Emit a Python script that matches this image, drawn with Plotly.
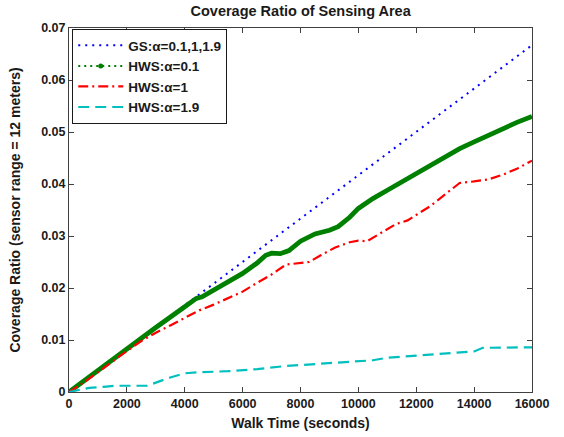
import plotly.graph_objects as go

# Walk time (seconds) and coverage ratio for each strategy
gs_time = [0, 16000]
gs_cov = [0.0, 0.0667]

hws01_time = [0, 1000, 2000, 3000, 4000, 4400, 4600, 5000, 5500, 6000, 6500, 6800,
              7000, 7300, 7600, 8000, 8500, 9000, 9300, 9700, 10000, 10500, 11000,
              11500, 12000, 12500, 13000, 13500, 14000, 14500, 15000, 15500, 16000]
hws01_cov = [0.0, 0.0042, 0.0083, 0.0124, 0.0164, 0.0180, 0.0183, 0.0196, 0.0212,
             0.0228, 0.0248, 0.0263, 0.0267, 0.0266, 0.0272, 0.0290, 0.0304, 0.0311,
             0.0318, 0.0336, 0.0353, 0.0372, 0.0388, 0.0404, 0.0420, 0.0436, 0.0452,
             0.0468, 0.0481, 0.0494, 0.0507, 0.0519, 0.0530]

hws1_time = [0, 500, 1000, 1500, 2000, 2500, 3000, 3500, 4000, 4500, 5000, 5500, 6000,
             6500, 7000, 7500, 8000, 8300, 8700, 9200, 9700, 10000, 10300, 10700, 11000,
             11300, 11700, 12000, 12500, 13000, 13500, 14000, 14500, 15000, 15500, 16000]
hws1_cov = [0.0, 0.0018, 0.0038, 0.0059, 0.0079, 0.0098, 0.0114, 0.0128, 0.0143, 0.0157,
            0.0168, 0.0180, 0.0193, 0.0210, 0.0226, 0.0245, 0.0248, 0.0250, 0.0263,
            0.0278, 0.0288, 0.0291, 0.0290, 0.0303, 0.0313, 0.0323, 0.0330, 0.0340,
            0.0358, 0.0380, 0.0402, 0.0405, 0.0409, 0.0418, 0.0430, 0.0445]

hws19_time = [0, 300, 700, 1200, 1600, 2700, 3000, 3500, 4000, 4500, 5500, 6500, 7500,
              8500, 9500, 10000, 10500, 11000, 11500, 12000, 12500, 13000, 13500, 14000,
              14300, 15000, 16000]
hws19_cov = [0.0, 0.0004, 0.0008, 0.0010, 0.0012, 0.0012, 0.0018, 0.0028, 0.0036, 0.0038,
             0.0040, 0.0044, 0.0050, 0.0054, 0.0058, 0.0060, 0.0061, 0.0066, 0.0068,
             0.0070, 0.0072, 0.0074, 0.0075, 0.0078, 0.0085, 0.0086, 0.0086]

x_ticks = [0, 2000, 4000, 6000, 8000, 10000, 12000, 14000, 16000]
y_ticks = [0, 0.01, 0.02, 0.03, 0.04, 0.05, 0.06, 0.07]
y_tick_text = ["0", "0.01", "0.02", "0.03", "0.04", "0.05", "0.06", "0.07"]

FONT = "Liberation Sans, Arial, sans-serif"
INK = "#1a1a1a"
BLUE = "#0000ff"
GREEN = "#008000"
RED = "#ff0000"
CYAN = "#00bfbf"

fig = go.Figure()

fig.add_trace(go.Scatter(
    x=gs_time, y=gs_cov, mode="lines", name="GS:α=0.1,1,1.9",
    line=dict(color=BLUE, width=2, dash="2px,5px"),
))
# thick green curve (legend entry drawn separately with its dotted/marker style)
fig.add_trace(go.Scatter(
    x=hws01_time, y=hws01_cov, mode="lines", showlegend=False,
    line=dict(color=GREEN, width=4.8),
))
fig.add_trace(go.Scatter(
    x=[None], y=[None], mode="lines+markers", name="HWS:α=0.1",
    line=dict(color=GREEN, width=2, dash="2px,4px"),
    marker=dict(color=GREEN, size=5, symbol="circle"),
))
fig.add_trace(go.Scatter(
    x=hws1_time, y=hws1_cov, mode="lines", name="HWS:α=1",
    line=dict(color=RED, width=2.2, dash="10px,4px,2px,4px"),
))
fig.add_trace(go.Scatter(
    x=hws19_time, y=hws19_cov, mode="lines", name="HWS:α=1.9",
    line=dict(color=CYAN, width=2.2, dash="11px,6px"),
))

axis_common = dict(
    showgrid=False, zeroline=False, showline=True, linecolor="#404040", linewidth=1,
    mirror="ticks", ticks="inside", ticklen=5, tickcolor="#404040", automargin=False,
    tickfont=dict(family=FONT, size=12.5, color=INK, weight="bold"),
)

fig.update_layout(
    width=564, height=437,
    margin=dict(l=69, r=32, t=28, b=45),
    paper_bgcolor="white", plot_bgcolor="white",
    font=dict(family=FONT),
    title=dict(text="Coverage Ratio of Sensing Area", x=0.533, xanchor="center",
               y=0.974, yanchor="middle",
               font=dict(family=FONT, size=14.5, color=INK, weight="bold")),
    xaxis=dict(range=[0, 16000], tickvals=x_ticks, ticktext=[str(v) for v in x_ticks],
               title=dict(text="Walk Time (seconds)", standoff=8,
                          font=dict(family=FONT, size=14, color=INK, weight="bold")),
               **axis_common),
    yaxis=dict(range=[0, 0.07], tickvals=y_ticks, ticktext=y_tick_text,
               title=dict(text="Coverage Ratio (sensor range = 12 meters)", standoff=17,
                          font=dict(family=FONT, size=14, color=INK, weight="bold")),
               **axis_common),
    legend=dict(x=0.007, y=0.997, xanchor="left", yanchor="top",
                bgcolor="white", bordercolor=INK, borderwidth=1,
                itemwidth=45,
                font=dict(family=FONT, size=13.5, color=INK, weight="bold")),
)

fig.write_html("out.html")
